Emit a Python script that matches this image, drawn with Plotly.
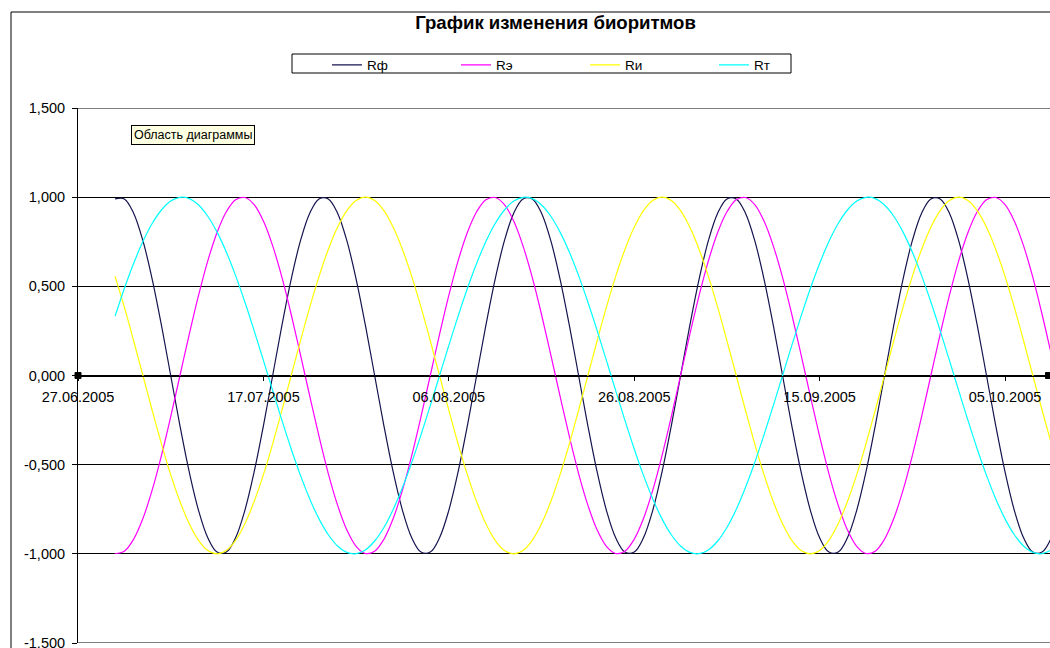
import pandas as pd
import plotly.graph_objects as go

# Daily biorhythm values, 01.07.2005 - 10.10.2005
start_date = "2005-07-01"

r_phys = [
    0.990,
    0.990, 0.910, 0.756, 0.541, 0.282, 0.000, -0.282, -0.541, -0.756, -0.910, -0.990,
    -0.990, -0.910, -0.756, -0.541, -0.282, 0.000, 0.282, 0.541, 0.756, 0.910, 0.990,
    0.990, 0.910, 0.756, 0.541, 0.282, 0.000, -0.282, -0.541, -0.756, -0.910, -0.990,
    -0.990, -0.910, -0.756, -0.541, -0.282, 0.000, 0.282, 0.541, 0.756, 0.910, 0.990,
    0.990, 0.910, 0.756, 0.541, 0.282, 0.000, -0.282, -0.541, -0.756, -0.910, -0.990,
    -0.990, -0.910, -0.756, -0.541, -0.282, 0.000, 0.282, 0.541, 0.756, 0.910, 0.990,
    0.990, 0.910, 0.756, 0.541, 0.282, 0.000, -0.282, -0.541, -0.756, -0.910, -0.990,
    -0.990, -0.910, -0.756, -0.541, -0.282, 0.000, 0.282, 0.541, 0.756, 0.910, 0.990,
    0.990, 0.910, 0.756, 0.541, 0.282, 0.000, -0.282, -0.541, -0.756, -0.910, -0.990,
    -0.990, -0.910,
]

r_emo = [
    -0.998, -0.985, -0.918, -0.802, -0.643, -0.449, -0.231, 0.000, 0.231, 0.449, 0.643,
    0.802, 0.918, 0.985,
    0.998, 0.958, 0.866, 0.727, 0.550, 0.342, 0.116, -0.116, -0.342, -0.550, -0.727,
    -0.866, -0.958, -0.998, -0.985, -0.918, -0.802, -0.643, -0.449, -0.231, 0.000, 0.231,
    0.449, 0.643, 0.802, 0.918, 0.985,
    0.998, 0.958, 0.866, 0.727, 0.550, 0.342, 0.116, -0.116, -0.342, -0.550, -0.727,
    -0.866, -0.958, -0.998, -0.985, -0.918, -0.802, -0.643, -0.449, -0.231, 0.000, 0.231,
    0.449, 0.643, 0.802, 0.918, 0.985,
    0.998, 0.958, 0.866, 0.727, 0.550, 0.342, 0.116, -0.116, -0.342, -0.550, -0.727,
    -0.866, -0.958, -0.998, -0.985, -0.918, -0.802, -0.643, -0.449, -0.231, 0.000, 0.231,
    0.449, 0.643, 0.802, 0.918, 0.985,
    0.998, 0.958, 0.866, 0.727, 0.550, 0.342, 0.116,
]

r_int = [
    0.556, 0.383, 0.195, 0.000, -0.195, -0.383, -0.556, -0.707, -0.831, -0.924, -0.981,
    -1.000, -0.981, -0.924, -0.831, -0.707, -0.556, -0.383, -0.195, 0.000, 0.195, 0.383,
    0.556, 0.707, 0.831, 0.924, 0.981,
    1.000, 0.981, 0.924, 0.831, 0.707, 0.556, 0.383, 0.195, 0.000, -0.195, -0.383,
    -0.556, -0.707, -0.831, -0.924, -0.981, -1.000, -0.981, -0.924, -0.831, -0.707,
    -0.556, -0.383, -0.195, 0.000, 0.195, 0.383, 0.556, 0.707, 0.831, 0.924, 0.981,
    1.000, 0.981, 0.924, 0.831, 0.707, 0.556, 0.383, 0.195, 0.000, -0.195, -0.383,
    -0.556, -0.707, -0.831, -0.924, -0.981, -1.000, -0.981, -0.924, -0.831, -0.707,
    -0.556, -0.383, -0.195, 0.000, 0.195, 0.383, 0.556, 0.707, 0.831, 0.924, 0.981,
    1.000, 0.981, 0.924, 0.831, 0.707, 0.556, 0.383, 0.195, 0.000, -0.195, -0.383,
]

r_tv = [
    0.333, 0.488, 0.628, 0.751, 0.852, 0.928, 0.978, 0.999,
    0.992, 0.956, 0.893, 0.804, 0.692, 0.560, 0.412, 0.252, 0.085, -0.085, -0.252,
    -0.412, -0.560, -0.692, -0.804, -0.893, -0.956, -0.992, -0.999, -0.978, -0.928,
    -0.852, -0.751, -0.628, -0.488, -0.333, -0.169, 0.000, 0.169, 0.333, 0.488, 0.628,
    0.751, 0.852, 0.928, 0.978, 0.999,
    0.992, 0.956, 0.893, 0.804, 0.692, 0.560, 0.412, 0.252, 0.085, -0.085, -0.252,
    -0.412, -0.560, -0.692, -0.804, -0.893, -0.956, -0.992, -0.999, -0.978, -0.928,
    -0.852, -0.751, -0.628, -0.488, -0.333, -0.169, 0.000, 0.169, 0.333, 0.488, 0.628,
    0.751, 0.852, 0.928, 0.978, 0.999,
    0.992, 0.956, 0.893, 0.804, 0.692, 0.560, 0.412, 0.252, 0.085, -0.085, -0.252,
    -0.412, -0.560, -0.692, -0.804, -0.893, -0.956, -0.992, -0.999, -0.978,
]

series_names = ["Rф", "Rэ", "Rи", "Rт"]
series_colors = ["#14144E", "#FF00FF", "#FFFF00", "#00FFFF"]

y_ticks = [-1.5, -1.0, -0.5, 0.0, 0.5, 1.0, 1.5]
y_tick_labels = ["-1,500", "-1,000", "-0,500", "0,000", "0,500", "1,000", "1,500"]

dates = pd.date_range(start_date, periods=len(r_phys), freq="D")

FONT = "Arial, Liberation Sans, sans-serif"

fig = go.Figure()
for name, color, vals in zip(series_names, series_colors, [r_phys, r_emo, r_int, r_tv]):
    fig.add_trace(go.Scatter(
        x=dates, y=vals, name=name, mode="lines",
        line=dict(color=color, width=1.2, shape="spline"),
    ))

fig.update_layout(
    width=1050, height=648,
    margin=dict(l=78, r=0, t=108, b=5, autoexpand=False),
    paper_bgcolor="white", plot_bgcolor="white",
    separators=",.",
    font=dict(family=FONT, size=14.5, color="black"),
    title=dict(
        text="График изменения биоритмов",
        font=dict(family=FONT, size=18.6, color="black", weight="bold"),
        xref="paper", x=0.4913, xanchor="center",
        yref="container", y=1 - 22 / 648, yanchor="middle",
    ),
    showlegend=True,
    legend=dict(
        orientation="h",
        x=0.2562, xanchor="left",
        y=1.1093, yanchor="top",
        bgcolor="rgba(0,0,0,0)", borderwidth=0,
        entrywidth=84, entrywidthmode="pixels",
        font=dict(family=FONT, size=13.5, color="black"),
    ),
    xaxis=dict(
        type="date",
        range=["2005-06-27", "2005-10-09 20:24"],
        anchor="free", position=0.5,
        showline=True, linecolor="black", linewidth=1,
        ticks="outside", ticklen=4, tickcolor="black",
        tick0="2005-06-27", dtick=20 * 86400000,
        tickformat="%d.%m.%Y",
        showgrid=False, zeroline=False,
        ticklabelstandoff=4,
        automargin=False,
        tickfont=dict(family=FONT, size=14.5, color="black"),
    ),
    yaxis=dict(
        range=[-1.5, 1.5],
        tickvals=y_ticks, ticktext=y_tick_labels,
        showline=True, linecolor="black", linewidth=1,
        ticks="outside", ticklen=5, tickcolor="black",
        showgrid=True, gridcolor="black", gridwidth=1,
        zeroline=False,
        ticklabelstandoff=4,
        ticklabeloverflow="allow",
        automargin=False,
        tickfont=dict(family=FONT, size=14.5, color="black"),
    ),
)

# chart area frame and legend box
fig.add_shape(type="rect", xref="paper", yref="paper",
              x0=(11 - 78) / 972, x1=1.2, y0=-0.2, y1=(643 - 12) / 535,
              line=dict(color="black", width=1), layer="below")
fig.add_shape(type="rect", xref="paper", yref="paper",
              x0=(292 - 78) / 972, x1=(791 - 78) / 972,
              y0=(643 - 73) / 535, y1=(643 - 54) / 535,
              line=dict(color="black", width=1), fillcolor="white", layer="below")

# gridlines along the top and bottom edges of the plot area
for yv in (y_ticks[0], y_ticks[-1]):
    fig.add_shape(type="line", xref="paper", yref="y", x0=0, x1=1, y0=yv, y1=yv,
                  line=dict(color="black", width=1), layer="below")

# selection handles at both ends of the category axis
for xp in (0.0, 0.9985):
    fig.add_shape(type="rect", xref="paper", yref="y",
                  xsizemode="pixel", ysizemode="pixel",
                  xanchor=xp, yanchor=0, x0=-3, x1=3, y0=-3, y1=3,
                  line=dict(color="black", width=1), fillcolor="black")

# chart tooltip
fig.add_annotation(
    text="Область диаграммы", xref="paper", yref="paper",
    x=0.1188, y=0.950, xanchor="center", yanchor="middle", showarrow=False,
    font=dict(family=FONT, size=12.5, color="black"),
    bgcolor="#FFFFE1", bordercolor="black", borderwidth=1, borderpad=2,
)

fig.write_html("out.html")
